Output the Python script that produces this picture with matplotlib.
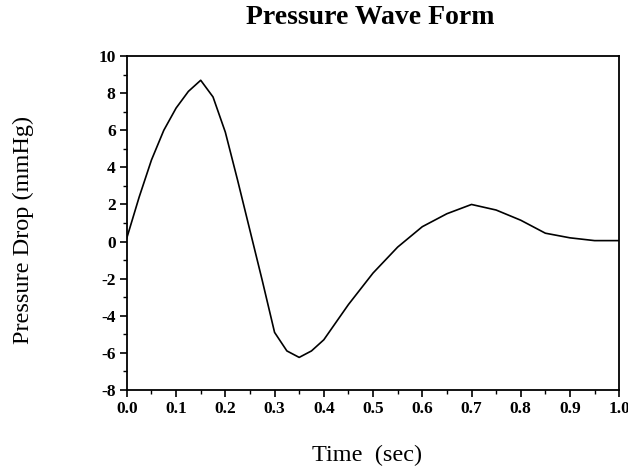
import matplotlib.pyplot as plt
from matplotlib.ticker import MultipleLocator

time_s = [0.0, 0.025, 0.05, 0.075, 0.1, 0.125, 0.15, 0.175, 0.2, 0.225, 0.25,
          0.275, 0.3, 0.325, 0.35, 0.375, 0.4, 0.45, 0.5, 0.55, 0.6, 0.65,
          0.7, 0.75, 0.8, 0.85, 0.9, 0.95, 1.0]
pressure = [0.2, 2.4, 4.4, 6.0, 7.2, 8.1, 8.7, 7.8, 5.9, 3.3, 0.6,
            -2.1, -4.9, -5.9, -6.25, -5.9, -5.3, -3.4, -1.7, -0.3, 0.8, 1.5,
            2.0, 1.7, 1.15, 0.45, 0.2, 0.05, 0.05]
x_ticks = [0.0, 0.1, 0.2, 0.3, 0.4, 0.5, 0.6, 0.7, 0.8, 0.9, 1.0]
y_ticks = [-8, -6, -4, -2, 0, 2, 4, 6, 8, 10]

plt.rcParams['font.family'] = ['Liberation Serif', 'DejaVu Serif']

fig = plt.figure(figsize=(6.28, 4.68), dpi=100)
ax = fig.add_axes([0.202, 0.167, 0.784, 0.713])

ax.plot(time_s, pressure, color="black", linewidth=1.2)

ax.set_xlim(0, 1.0)
ax.set_ylim(-8, 10)
ax.set_xticks(x_ticks)
ax.set_yticks(y_ticks)
ax.set_xticklabels([f"{t:.1f}" for t in x_ticks], fontweight="bold", fontsize=12.5)
ax.set_yticklabels([str(v) for v in y_ticks], fontweight="bold", fontsize=12.5)
ax.xaxis.set_minor_locator(MultipleLocator(0.05))
ax.yaxis.set_minor_locator(MultipleLocator(1))
ax.tick_params(which="major", direction="out", length=5, width=1.2, pad=3)
ax.tick_params(which="minor", direction="out", length=3, width=1.0)
for s in ax.spines.values():
    s.set_linewidth(1.3)

# Titulo y etiquetas
fig.text(0.589, 0.949, "Pressure Wave Form", fontweight="bold", fontsize=20,
         ha="center", va="baseline")
fig.text(0.584, 0.026, "Time  (sec)", fontsize=17.5, ha="center", va="center")
fig.text(0.038, 0.509, "Pressure Drop (mmHg)", fontsize=17.5, rotation=90,
         ha="center", va="center")

plt.savefig("out.png")
